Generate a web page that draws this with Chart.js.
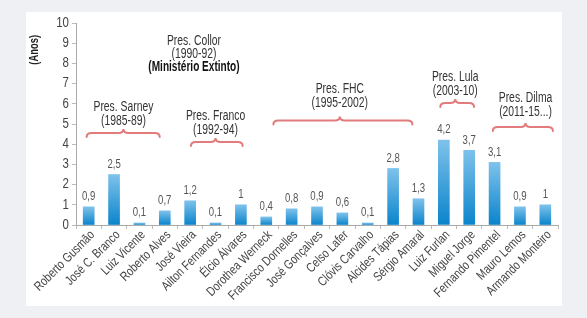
<!DOCTYPE html>
<html>
<head>
<meta charset="utf-8">
<script src="https://cdn.jsdelivr.net/npm/chart.js@4"></script>
<style>
  html, body { margin: 0; padding: 0; background: #eef0f3; }
  body { width: 587px; height: 318px; position: relative; overflow: hidden; }
  #painel { position: absolute; left: 26px; top: 12px; width: 536px; height: 294px; background: #fff; }
</style>
</head>
<body>
<div id="painel"><canvas id="grafico" width="536" height="294"></canvas></div>
<script>
const ministros = ['Roberto Gusmão', 'José C. Branco', 'Luiz Vicente', 'Roberto Alves', 'José Vieira',
  'Ailton Fernandes', 'Élcio Álvares', 'Dorothea Werneck', 'Francisco Dornelles', 'José Gonçalves',
  'Celso Lafer', 'Clóvis Carvalho', 'Alcides Tápias', 'Sérgio Amaral', 'Luiz Furlan', 'Miguel Jorge',
  'Fernando Pimentel', 'Mauro Lemos', 'Armando Monteiro'];
const anos = [0.9, 2.5, 0.1, 0.7, 1.2, 0.1, 1, 0.4, 0.8, 0.9, 0.6, 0.1, 2.8, 1.3, 4.2, 3.7, 3.1, 0.9, 1];
const marcasY = [0, 1, 2, 3, 4, 5, 6, 7, 8, 9, 10];

// governos e o periodo de cada um
const govNomes = ['Pres. Sarney', 'Pres. Franco', 'Pres. FHC', 'Pres. Lula', 'Pres. Dilma'];
const govAnos = ['(1985-89)', '(1992-94)', '(1995-2002)', '(2003-10)', '(2011-15...)'];

// onde ficam as chaves (indice do ministro / anos no eixo y)
const chaves = [
  { de: -0.08, ate: 2.8, y: 4.55, txt: 5.84, cx: 1.37 },
  { de: 4.03, ate: 6.07, y: 4.11, txt: 5.40, cx: 5.0 },
  { de: 7.28, ate: 12.76, y: 5.17, txt: 6.73, cx: 9.9 },
  { de: 13.86, ate: 15.19, y: 6.04, txt: 7.33, cx: 14.45 },
  { de: 15.93, ate: 18.3, y: 4.85, txt: 6.29, cx: 17.22 }
];

const fonte = "'Liberation Sans', Arial, sans-serif";

// texto estreito (a fonte original e condensada)
function texto(ctx, s, x, y, o) {
  ctx.save();
  ctx.translate(x, y);
  ctx.rotate(o.rot || 0);
  ctx.scale(o.sx || 0.78, 1);
  ctx.font = (o.bold ? 'bold ' : '') + o.size + 'px ' + fonte;
  ctx.textAlign = o.align || 'center';
  ctx.textBaseline = o.base || 'middle';
  ctx.fillStyle = o.color || '#333';
  ctx.fillText(s, 0, 0);
  ctx.restore();
}

const degrade = {
  id: 'degrade',
  beforeDatasetsDraw(chart) {
    const base = chart.scales.y.getPixelForValue(0);
    chart.getDatasetMeta(0).data.forEach(bar => {
      const g = chart.ctx.createLinearGradient(0, bar.y, 0, base);
      g.addColorStop(0, '#7ec2eb');
      g.addColorStop(1, '#0a84cb');
      bar.options = Object.assign({}, bar.options, { backgroundColor: g });
    });
  }
};

const textos = {
  id: 'textos',
  afterDraw(chart) {
    const ctx = chart.ctx;
    const sx = chart.scales.x, sy = chart.scales.y;
    const eixoX = chart.chartArea.left, eixoY = chart.chartArea.bottom;
    const passo = sx.getPixelForValue(1) - sx.getPixelForValue(0);
    const px = v => sx.getPixelForValue(0) + v * passo;

    // rotulos do eixo y
    marcasY.forEach(v => {
      texto(ctx, String(v), eixoX - 7, sy.getPixelForValue(v), { size: 14, sx: 0.82, align: 'right', color: '#444' });
    });
    texto(ctx, '(Anos)', 9, 23, { size: 12, bold: true, sx: 0.78, rot: -Math.PI / 2, align: 'right', color: '#222' });

    // nomes dos ministros
    ministros.forEach((nome, i) => {
      texto(ctx, nome, sx.getPixelForValue(i) + 4, eixoY + 8, { size: 13, sx: 0.8, rot: -Math.PI / 4, align: 'right', color: '#444' });
    });

    // valores acima das barras
    chart.getDatasetMeta(0).data.forEach((bar, i) => {
      texto(ctx, String(anos[i]).replace('.', ','), bar.x, bar.y - 4, { size: 12, sx: 0.8, base: 'bottom', color: '#555' });
    });

    // chaves dos governos
    chaves.forEach((k, i) => {
      const x1 = px(k.de), x2 = px(k.ate), xm = px(k.cx);
      const y = sy.getPixelForValue(k.y);
      ctx.save();
      ctx.strokeStyle = '#e27b7b';
      ctx.lineWidth = 2;
      ctx.lineCap = 'round';
      ctx.beginPath();
      ctx.moveTo(x1, y + 4);
      ctx.quadraticCurveTo(x1, y, x1 + 5, y);
      ctx.lineTo(xm - 5, y);
      ctx.quadraticCurveTo(xm, y, xm, y - 4);
      ctx.quadraticCurveTo(xm, y, xm + 5, y);
      ctx.lineTo(x2 - 5, y);
      ctx.quadraticCurveTo(x2, y, x2, y + 4);
      ctx.stroke();
      ctx.restore();
      const ty = sy.getPixelForValue(k.txt);
      texto(ctx, govNomes[i], xm, ty, { size: 14, sx: 0.74 });
      texto(ctx, govAnos[i], xm, ty + 14.5, { size: 14, sx: 0.74 });
    });

    // Collor: sem chave
    const xc = px(4.15);
    texto(ctx, 'Pres. Collor', xc, sy.getPixelForValue(9.11), { size: 14, sx: 0.74 });
    texto(ctx, '(1990-92)', xc, sy.getPixelForValue(8.47), { size: 14, sx: 0.74 });
    texto(ctx, '(Ministério Extinto)', xc, sy.getPixelForValue(7.82), { size: 14, bold: true, sx: 0.72, color: '#111' });
  }
};

new Chart(document.getElementById('grafico'), {
  type: 'bar',
  data: {
    labels: ministros,
    datasets: [{
      data: anos,
      barThickness: 11,
      backgroundColor: '#3a9fdc'
    }]
  },
  options: {
    responsive: false,
    animation: false,
    layout: { padding: { top: 11, right: 4, left: 0, bottom: 0 } },
    plugins: { legend: { display: false }, tooltip: { enabled: false } },
    scales: {
      x: {
        grid: { display: true, drawOnChartArea: false, drawTicks: true, tickLength: 4, color: '#bbb', offset: true },
        border: { color: '#aaa' },
        ticks: { display: false },
        afterFit(s) { s.height = 81; }
      },
      y: {
        min: 0, max: 10,
        afterBuildTicks(s) { s.ticks = marcasY.map(v => ({ value: v })); },
        grid: { display: true, drawOnChartArea: false, tickLength: 4, color: '#bbb' },
        border: { color: '#aaa' },
        ticks: { display: false },
        afterFit(s) { s.width = 50; }
      }
    }
  },
  plugins: [degrade, textos]
});
</script>
</body>
</html>
